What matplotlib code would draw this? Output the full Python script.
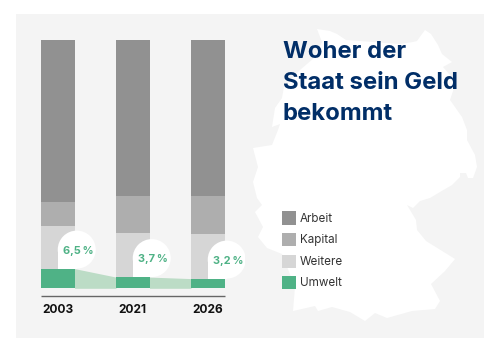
import numpy as np
import matplotlib
matplotlib.use("Agg")
import matplotlib.pyplot as plt
from matplotlib.patches import Circle, Polygon, Rectangle
from matplotlib.transforms import IdentityTransform


## ----- DATA ------ ##

years = ["2003", "2021", "2026"]
umwelt = [6.5, 3.7, 3.2]
weitere = [14.1, 14.5, 14.7]
kapital = [7.9, 12.3, 12.6]
arbeit = [53.4, 51.4, 51.4]
umwelt_labels = ["6,5\u2009%", "3,7\u2009%", "3,2\u2009%"]

legend_labels = ["Arbeit", "Kapital", "Weitere", "Umwelt"]
title_lines = ["Woher der", "Staat sein Geld", "bekommt"]

## ----- STYLE ------ ##

WIDTH, HEIGHT = 500, 352
c_arbeit = "#919191"
c_kapital = "#aeaeae"
c_weitere = "#d6d6d6"
c_umwelt = "#4fb286"
c_link = "#bcdcc6"
c_panel = "#f4f4f4"
c_navy = "#012e67"

# outline of the map behind everything, in picture pixels (x, y from top left)
map_outline = [
    (317, 29), (330, 31), (337, 34), (346, 40), (400, 44), (413, 42), (417, 41),
    (425, 30), (431, 34), (438, 45), (442, 54), (452, 62), (443, 67), (456, 82),
    (450, 100), (462, 117), (467, 130), (467, 140), (475, 155), (477, 167),
    (473, 178), (468, 178), (466, 173), (460, 173), (460, 177), (452, 185),
    (440, 192), (430, 198), (420, 201), (413, 208), (407, 205), (416, 220),
    (417, 230), (426, 241), (455, 259), (445, 271), (431, 284), (440, 301),
    (435, 309), (412, 311), (387, 318), (375, 313), (365, 321), (350, 312),
    (332, 307), (318, 311), (315, 306), (293, 311), (295, 287), (282, 254),
    (267, 248), (258, 237), (263, 227), (255, 212), (262, 205), (257, 198),
    (253, 182), (258, 167), (253, 148), (272, 145), (278, 130), (280, 124),
    (272, 127), (275, 108), (282, 98), (284, 87), (300, 70), (314, 58), (322, 42),
]


def px_rect(ax, left, top, right, bottom, color, zorder=1):
    ax.add_patch(Rectangle((left, top), right - left, bottom - top, facecolor=color,
                           edgecolor="none", zorder=zorder))


plt.rcParams["font.family"] = ["Inter", "DejaVu Sans"]
fig = plt.figure(figsize=(WIDTH / 100, HEIGHT / 100), dpi=100, facecolor="white")

## ----- BACKGROUND, MAP, TITLE, LEGEND (pixel coordinates) ------ ##

bg = fig.add_axes([0, 0, 1, 1])
bg.set_xlim(0, WIDTH)
bg.set_ylim(HEIGHT, 0)
bg.axis("off")
px_rect(bg, 15.5, 14, 484, 337.5, c_panel, zorder=0)
bg.add_patch(Polygon(map_outline, closed=True, facecolor="white", edgecolor="none", zorder=1))

for line, base_y in zip(title_lines, [57.5, 88.7, 120]):
    bg.text(283, base_y, line, fontsize=17.2, fontweight="bold", color=c_navy,
            ha="left", va="baseline", zorder=3)

legend_colors = [c_arbeit, c_kapital, c_weitere, c_umwelt]
for label, color, top in zip(legend_labels, legend_colors, [211.3, 233, 254.5, 275.7]):
    px_rect(bg, 282, top, 295.5, top + 13.4, color, zorder=3)
    bg.text(300, top + 7.5, label, fontsize=8.4, color="#333333", ha="left", va="center", zorder=3)

## ----- STACKED BARS ------ ##

# three bars, 75 px apart and 33.5 px wide, baseline at 288.3, 3.03 px per percent
x = np.arange(len(years))
px_per_x = 75
bar_w = 33.5 / px_per_x
x0 = 41 + 33.5 / 2 - px_per_x * 0.5
x1 = x0 + px_per_x * 3
y_bottom = 288.3
ymax = y_bottom / 3.03
ax = fig.add_axes([x0 / WIDTH, (HEIGHT - y_bottom) / HEIGHT, (x1 - x0) / WIDTH, y_bottom / HEIGHT])
ax.set_xlim(-0.5, 2.5)
ax.set_ylim(0, ymax)
ax.patch.set_alpha(0)
for side in ax.spines:
    ax.spines[side].set_visible(False)
ax.set_yticks([])
ax.set_xticks([])

umwelt_a = np.array(umwelt)
weitere_a = np.array(weitere)
kapital_a = np.array(kapital)
arbeit_a = np.array(arbeit)

ax.bar(x, umwelt_a, bar_w, color=c_umwelt, zorder=3)
ax.bar(x, weitere_a, bar_w, bottom=umwelt_a, color=c_weitere, zorder=2)
ax.bar(x, kapital_a, bar_w, bottom=umwelt_a + weitere_a, color=c_kapital, zorder=2)
ax.bar(x, arbeit_a, bar_w, bottom=umwelt_a + weitere_a + kapital_a, color=c_arbeit, zorder=2)

# light green bands between the green bars
for i in range(len(years) - 1):
    ax.fill_between([x[i] + bar_w / 2, x[i + 1] - bar_w / 2], [umwelt[i], umwelt[i + 1]], 0,
                    color=c_link, linewidth=0, zorder=2)

# white bubbles with the green share, lower left corner sits on bar centre / top of green
radius = 19
for i, label in enumerate(umwelt_labels):
    px, py = ax.transData.transform((x[i], umwelt[i]))
    ax.add_patch(Circle((px + radius, py + radius), radius, facecolor="white", edgecolor="none",
                        transform=IdentityTransform(), zorder=4))
    ax.add_patch(Rectangle((px, py), radius, radius, facecolor="white", edgecolor="none",
                           transform=IdentityTransform(), zorder=4))
    ax.text(px + radius + 1.5, py + radius - 1, label, fontsize=7.9, fontweight="bold",
            color=c_umwelt, ha="center", va="center", transform=IdentityTransform(), zorder=5)

## ----- AXIS LINE AND YEARS ------ ##

bg.plot([41, 224.5], [296, 296], color="#666666", linewidth=1.0, solid_capstyle="butt", zorder=3)
for i, year in enumerate(years):
    px, _ = ax.transData.transform((x[i], 0))
    bg.text(px, 312.7, year, fontsize=8.6, fontweight="bold", color="#111111",
            ha="center", va="baseline", zorder=3)

fig.savefig("out.png", dpi=100, facecolor="white")
